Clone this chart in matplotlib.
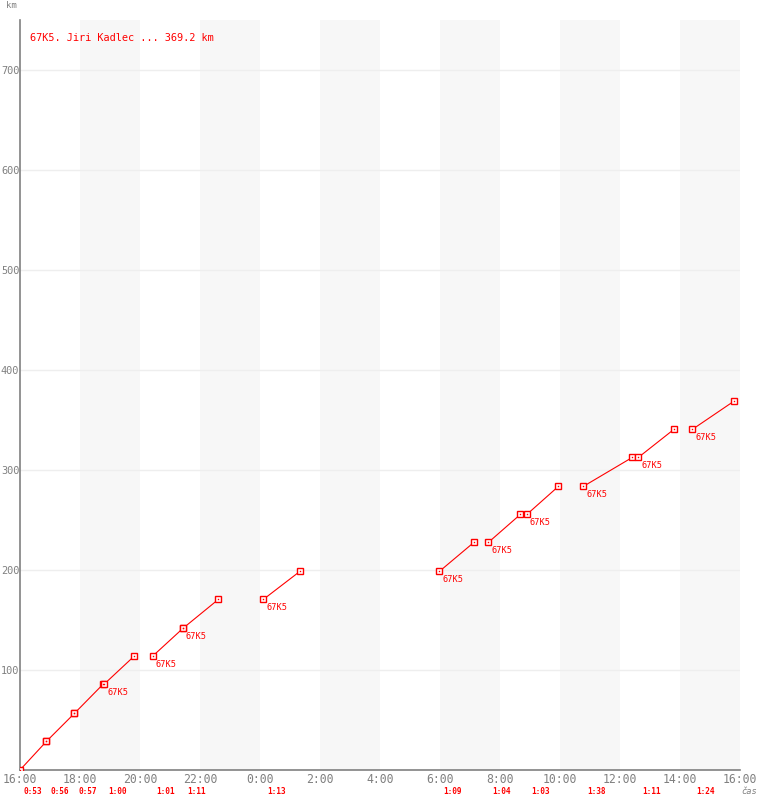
import numpy as np
import matplotlib
matplotlib.use('Agg')
import matplotlib.pyplot as plt

# legs of the ride: start clock time, duration, km at start / end
leg_start = ['16:00', '16:53', '17:49', '18:48', '20:25', '21:26', '0:07',
             '5:59', '7:37', '8:54', '10:47', '12:37', '14:25']
leg_dur = ['0:53', '0:56', '0:57', '1:00', '1:01', '1:11', '1:13',
           '1:09', '1:04', '1:03', '1:38', '1:11', '1:24']
km_start = [0, 28.7, 56.7, 85.7, 113.7, 141.7, 170.7,
            198.7, 227.7, 255.7, 283.7, 312.7, 340.7]
km_end = [28.7, 56.7, 85.7, 113.7, 141.7, 170.7, 198.7,
          227.7, 255.7, 283.7, 312.7, 340.7, 369.2]
has_label = [False, False, False, True, True, True, True,
             True, True, True, True, True, True]
station = '67K5'
title = '67K5. Jiri Kadlec ... 369.2 km'
xtick_labels = ['16:00', '18:00', '20:00', '22:00', '0:00', '2:00', '4:00',
                '6:00', '8:00', '10:00', '12:00', '14:00', '16:00']
yticks = [100, 200, 300, 400, 500, 600, 700]


def hrs(s):
    h, m = s.split(':')
    return int(h) + int(m) / 60.0


def rel(s):
    # hours since 16:00
    return (hrs(s) - 16) % 24


RED = '#ff0000'
GRAY = '#808080'
mono = 'DejaVu Sans Mono'

fig = plt.figure(figsize=(7.6, 8), dpi=100)
ax = fig.add_axes([20 / 760, 30 / 800, 720 / 760, 750 / 800])
ax.set_xlim(0, 24)
ax.set_ylim(0, 750)

# alternating bands every 2 hours
for b in range(2, 24, 4):
    ax.axvspan(b, b + 2, color='#f7f7f7', lw=0, zorder=0)
for y in yticks:
    ax.axhline(y, color='#eeeeee', lw=1, zorder=1)

for i in range(len(leg_start)):
    x0 = rel(leg_start[i])
    x1 = x0 + hrs(leg_dur[i])
    ax.plot([x0, x1], [km_start[i], km_end[i]], color=RED, lw=0.8, zorder=3)
    ax.plot([x0, x1], [km_start[i], km_end[i]], ls='none', marker='s', ms=4.2,
            mfc='white', mec=RED, mew=1.0, zorder=4)
    ax.plot([x0, x1], [km_start[i], km_end[i]], ls='none', marker='s', ms=1.0,
            mfc=RED, mec=RED, mew=0, zorder=5)
    if has_label[i]:
        ax.annotate(station, (x0, km_start[i]), xytext=(3, -4),
                    textcoords='offset pixels', ha='left', va='top',
                    color=RED, fontsize=6.2, family=mono, zorder=6)
    ax.annotate(leg_dur[i], (x0, 0), xytext=(4, -17), textcoords='offset pixels',
                ha='left', va='top', xycoords=('data', 'axes fraction'),
                color=RED, fontsize=5.6, family=mono, fontweight='bold',
                annotation_clip=False)

ax.set_xticks(np.arange(0, 25, 2))
ax.set_xticklabels(xtick_labels)
ax.set_yticks(yticks)
ax.tick_params(length=0, labelsize=8.3, colors=GRAY, pad=2)
ax.tick_params(axis='y', pad=0.5, labelsize=7.4)
for lab in ax.get_xticklabels() + ax.get_yticklabels():
    lab.set_family(mono)

for side in ['top', 'right']:
    ax.spines[side].set_visible(False)
for side in ['left', 'bottom']:
    ax.spines[side].set_color(GRAY)
    ax.spines[side].set_linewidth(1.2)

fig.text(30 / 760, 1 - 38 / 800, title, color=RED, fontsize=7.4, family=mono,
         ha='left', va='center')
fig.text(6 / 760, 1 - 6 / 800, 'km', color=GRAY, fontsize=6.5, family=mono,
         ha='left', va='center')
fig.text(741 / 760, 1 - 791 / 800, 'čas', color=GRAY, fontsize=6.3, family=mono,
         style='italic', ha='left', va='center')

fig.savefig('out.png', dpi=100)
